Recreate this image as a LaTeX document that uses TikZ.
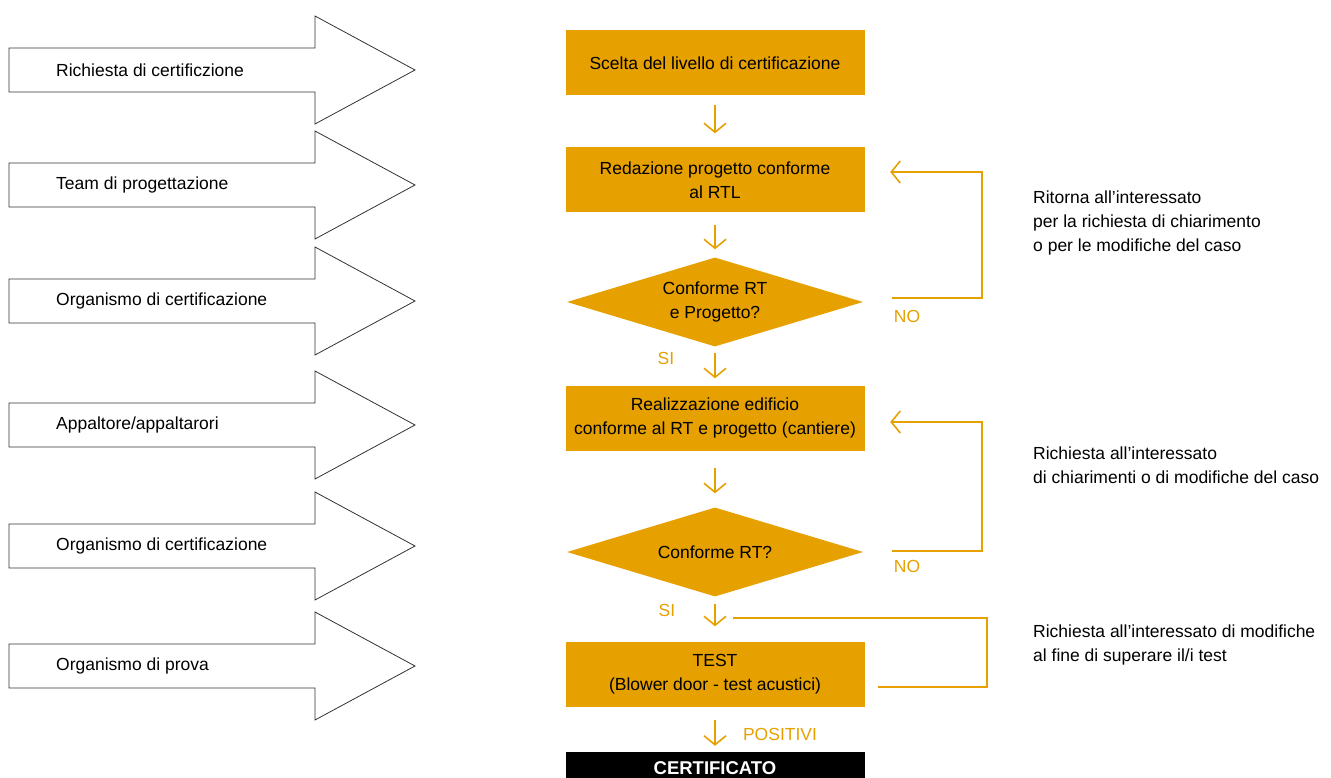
\documentclass[tikz,border=0pt]{standalone}
\usepackage{fontspec}
\setmainfont{Liberation Sans}
\usetikzlibrary{shapes.geometric,arrows.meta,calc}
\definecolor{ocra}{RGB}{230,161,0}

\begin{document}
\begin{tikzpicture}
[x=1pt,y=-1pt,
  every node/.style={font=\fontsize{17.5}{24}\selectfont},
  sidearrow/.style={draw=black!80,line width=0.8pt,fill=white},
  sidelabel/.style={anchor=west,inner sep=0pt},
  stepbox/.style={fill=ocra,minimum width=299pt,minimum height=65pt,align=center,inner sep=2pt},
  choice/.style={shape=diamond,aspect=3.33,fill=ocra,minimum width=296pt,minimum height=89pt,inner sep=0pt,align=center},
  finalbox/.style={fill=black,text=white,font=\fontsize{18.5}{24}\selectfont\bfseries,minimum width=299pt,minimum height=32pt},
  flowline/.style={draw=ocra,line width=1.6pt},
  flowarrow/.style={flowline,-{Straight Barb[length=9pt,width=22pt]}},
  answer/.style={text=ocra,inner sep=0pt},
  note/.style={anchor=west,align=left,inner sep=0pt}]
\useasboundingbox (0,0) rectangle (1331,778);
%% actors on the left
\foreach \nodename/\y/\sidetext in {
  richiesta/70/{Richiesta di certificzione}, team/185/{Team di progettazione},
  organismo/301/{Organismo di certificazione}, appaltatori/425/{Appaltore/appaltarori},
  verificatore/546/{Organismo di certificazione}, prova/666/{Organismo di prova}}
{
  \draw[sidearrow] (9,\y-22) -- (315,\y-22) -- (315,\y-54) -- (415,\y)
    -- (315,\y+54) -- (315,\y+22) -- (9,\y+22) -- cycle;
  \node[sidelabel] (\nodename) at (56,\y) {\sidetext};
}
%% steps of the procedure
\node[stepbox] (scelta) at (715,63) {Scelta del livello di certificazione};
\node[stepbox] (redazione) at (715,180) {Redazione progetto conforme\\al RTL};
\node[choice] (verifica) at (715,302) {Conforme RT\\e Progetto?};
\node[stepbox] (cantiere) at (715,418) {Realizzazione edificio\\conforme al RT e progetto (cantiere)};
\node[choice] (conforme) at (715,552) {Conforme RT?};
\node[stepbox] (test) at (715,674) {TEST\\(Blower door - test acustici)};
\node[finalbox] (certificato) at (715,768) {CERTIFICATO};
%% answers
\node[answer] (no1) at (907,316) {NO};
\node[answer] (si1) at (666,358) {SI};
\node[answer] (no2) at (907,566) {NO};
\node[answer] (si2) at (667,610) {SI};
\node[answer] (positivi) at (780,734) {POSITIVI};
%% notes on the right
\node[note] (ritorna) at (1033,223) {Ritorna all’interessato\\per la richiesta di chiarimento\\o per le modifiche del caso};
\node[note] (chiarimenti) at (1033,465) {Richiesta all’interessato\\di chiarimenti o di modifiche del caso};
\node[note] (modifiche) at (1033,645) {Richiesta all’interessato di modifiche\\al fine di superare il/i test};
%% edges or lines
\foreach \startnode/\endnode/\gapa/\gapb in {scelta/redazione/9/14,
  redazione/verifica/12/8, verifica/cantiere/6/7, cantiere/conforme/17/14,
  conforme/test/7/15, test/certificato/13/6}
{
  \draw[flowarrow,shorten <=\gapa pt,shorten >=\gapb pt] (\startnode) -- (\endnode);
}
%% loops back
\draw[flowarrow] ($(verifica.east)+(29,-4)$) -| ($(redazione.east)+(117.5,-8)$)
  -- ($(redazione.east)+(25.5,-8)$);
\draw[flowarrow] ($(conforme.east)+(29,-1)$) -| ($(cantiere.east)+(117.5,4)$)
  -- ($(cantiere.east)+(25.5,4)$);
\draw[flowline] ($(conforme.south)+(18,21)$) -| ($(test.east)+(122.5,13)$)
  -- ($(test.east)+(13.5,13)$);
\end{tikzpicture}
\end{document}
